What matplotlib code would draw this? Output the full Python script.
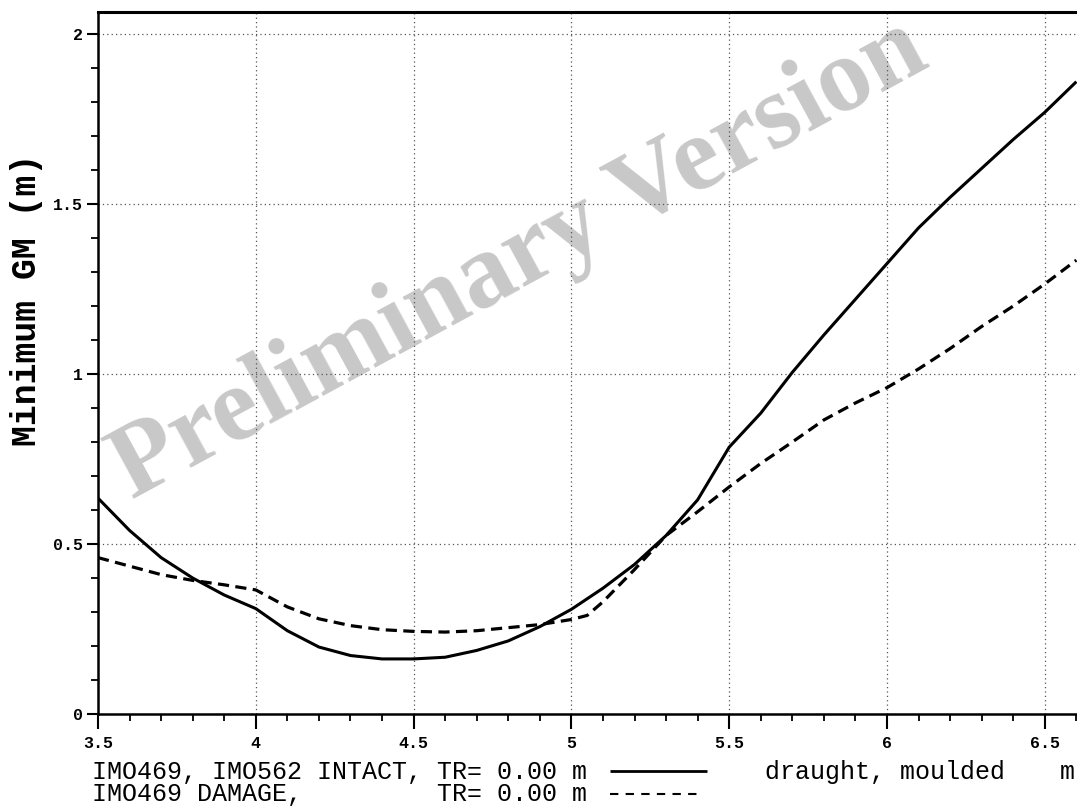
import matplotlib
matplotlib.use("Agg")
import matplotlib.pyplot as plt
from matplotlib.lines import Line2D
from matplotlib.ticker import MultipleLocator

# ---- data ----
draught_intact = [3.5, 3.6, 3.7, 3.8, 3.9, 4.0, 4.1, 4.2, 4.3, 4.4, 4.5, 4.6, 4.7, 4.8, 4.9,
                  5.0, 5.1, 5.2, 5.3, 5.4, 5.5, 5.6, 5.7, 5.8, 5.9, 6.0, 6.1, 6.2, 6.3, 6.4, 6.5, 6.6]
gm_intact = [0.635, 0.54, 0.46, 0.40, 0.35, 0.31, 0.245, 0.197, 0.172, 0.162, 0.162, 0.167, 0.187,
             0.215, 0.257, 0.308, 0.37, 0.44, 0.525, 0.63, 0.785, 0.885, 1.005, 1.115, 1.22,
             1.325, 1.43, 1.52, 1.605, 1.69, 1.77, 1.86]

draught_damage = [3.5, 3.6, 3.7, 3.8, 3.9, 4.0, 4.1, 4.2, 4.3, 4.4, 4.5, 4.6, 4.7, 4.8, 4.9,
                  5.0, 5.05, 5.1, 5.2, 5.3, 5.4, 5.5, 5.6, 5.7, 5.8, 5.9, 6.0, 6.1, 6.2, 6.3,
                  6.4, 6.5, 6.6]
gm_damage = [0.46, 0.435, 0.41, 0.393, 0.38, 0.365, 0.315, 0.28, 0.26, 0.248, 0.243, 0.241, 0.245,
             0.254, 0.263, 0.278, 0.29, 0.33, 0.425, 0.525, 0.595, 0.668, 0.737, 0.80, 0.865,
             0.915, 0.96, 1.015, 1.075, 1.14, 1.2, 1.265, 1.335]

x_ticks = [3.5, 4.0, 4.5, 5.0, 5.5, 6.0, 6.5]
x_tick_labels = ["3.5", "4", "4.5", "5", "5.5", "6", "6.5"]
y_ticks = [0, 0.5, 1.0, 1.5, 2.0]
y_tick_labels = ["0", "0.5", "1", "1.5", "2"]

y_label = "Minimum GM (m)"
line1_text = "IMO469, IMO562 INTACT, TR= 0.00 m"
line2_text = "IMO469 DAMAGE,         TR= 0.00 m"
x_label_text = "draught, moulded"
x_unit_text = "m"
watermark = "Preliminary Version"

# ---- figure ----
W, H = 1077, 807
fig = plt.figure(figsize=(W / 100, H / 100), dpi=100)
fig.patch.set_facecolor("white")

def fx(px):
    return px / W

def fy(py):
    return 1 - py / H

ax = fig.add_axes([fx(98), fy(714), fx(1077) - fx(98), fy(12) - fy(714)])
ax.set_xlim(3.5, 6.602)
ax.set_ylim(0, 2.065)

mono = "Liberation Mono"

ax.plot(draught_intact, gm_intact, color="black", lw=2.2, solid_capstyle="butt", zorder=3)
ax.plot(draught_damage, gm_damage, color="black", lw=2.3, linestyle=(0, (3.5, 2.0)),
        dash_capstyle="butt", zorder=3)

ax.set_xticks(x_ticks, x_tick_labels)
ax.set_yticks(y_ticks, y_tick_labels)
ax.xaxis.set_minor_locator(MultipleLocator(0.1))
ax.yaxis.set_minor_locator(MultipleLocator(0.1))
for lab in ax.get_xticklabels() + ax.get_yticklabels():
    lab.set_fontfamily(mono)
    lab.set_fontweight("bold")
    lab.set_fontsize(12)

ax.tick_params(axis="x", which="major", direction="out", length=10.5, width=1.5, pad=5)
ax.tick_params(axis="x", which="minor", direction="out", length=5, width=1.3)
ax.tick_params(axis="y", which="major", direction="out", length=8, width=1.5, pad=3)
ax.tick_params(axis="y", which="minor", direction="out", length=5, width=1.3)
ax.tick_params(top=False, right=False, which="both")

ax.grid(True, which="major", color="#555555", linestyle=(0, (1, 2.5)), linewidth=0.9)

ax.spines["right"].set_visible(False)
ax.spines["left"].set_linewidth(1.8)
ax.spines["bottom"].set_linewidth(1.8)
ax.spines["top"].set_linewidth(2.2)

# watermark
ax.text(fx(520), fy(260), watermark, transform=fig.transFigure, fontsize=76,
        family="Liberation Serif", fontweight="bold",
        color="#c8c8c8", rotation=28.5, ha="center", va="center", zorder=1)

# y label
fig.text(fx(27), fy(300), y_label, rotation=90, ha="center", va="center",
         family=mono, fontweight="bold", fontsize=25)

# bottom texts
fig.text(fx(92), fy(779), line1_text, ha="left", va="baseline", family=mono, fontsize=18)
fig.text(fx(92), fy(801), line2_text, ha="left", va="baseline", family=mono, fontsize=18)
fig.text(fx(765), fy(779), x_label_text, ha="left", va="baseline", family=mono, fontsize=18)
fig.text(fx(1075), fy(779), x_unit_text, ha="right", va="baseline", family=mono, fontsize=18)

fig.add_artist(Line2D([fx(610), fx(707)], [fy(771), fy(771)], transform=fig.transFigure,
                      color="black", lw=2.0, solid_capstyle="butt"))
fig.add_artist(Line2D([fx(610), fx(702)], [fy(794), fy(794)], transform=fig.transFigure,
                      color="black", lw=1.5, linestyle=(0, (4, 3.5)), dash_capstyle="butt"))

fig.savefig("out.png", dpi=100)
